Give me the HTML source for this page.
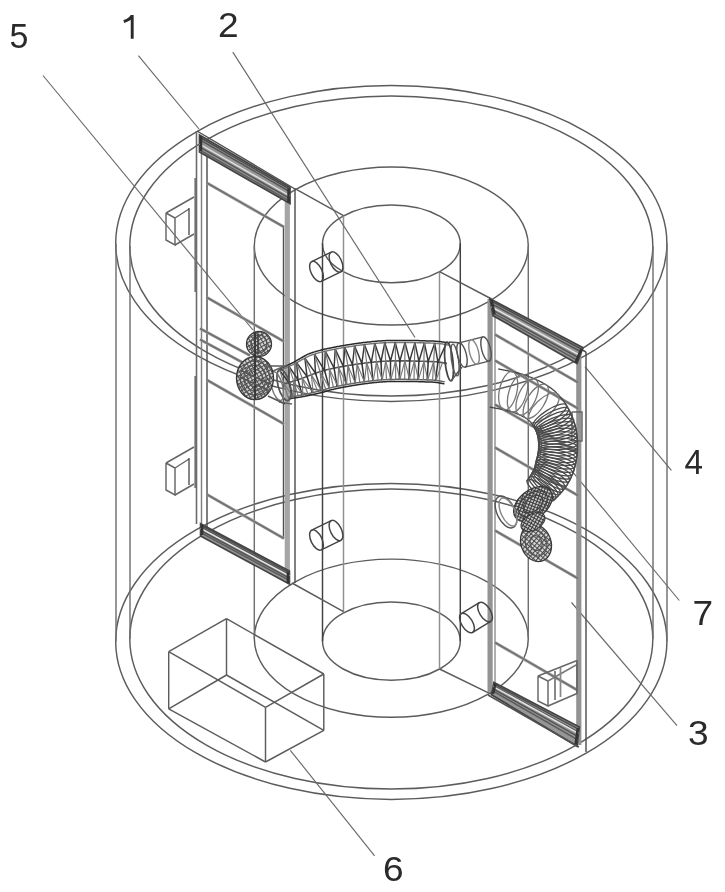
<!DOCTYPE html>
<html><head><meta charset="utf-8"><style>
html,body{margin:0;padding:0;background:#fff;}
svg{display:block;filter:grayscale(1);}
</style></head><body>
<svg width="725" height="892" viewBox="0 0 725 892">
<defs><pattern id="mesh" width="3.5" height="3.5" patternUnits="userSpaceOnUse" patternTransform="rotate(-30)"><rect width="3.5" height="3.5" fill="#dcdcdc"/><path d="M0 0.5 H3.5 M0.5 0 V3.5" stroke="#4a4a4a" stroke-width="1"/></pattern><pattern id="mesh2" width="3" height="3" patternUnits="userSpaceOnUse" patternTransform="rotate(-30)"><rect width="3" height="3" fill="#c8c8c8"/><path d="M0 0.5 H3 M0.5 0 V3" stroke="#3a3a3a" stroke-width="1"/></pattern></defs>
<rect width="725" height="892" fill="#fff"/>
<ellipse cx="391.3" cy="243.5" rx="275.6" ry="158.0" fill="none" stroke="#5c5c5c" stroke-width="1.45"/>
<ellipse cx="391.3" cy="246.0" rx="261.5" ry="150.0" fill="none" stroke="#5c5c5c" stroke-width="1.45"/>
<ellipse cx="391.3" cy="641.4" rx="275.6" ry="158.0" fill="none" stroke="#5c5c5c" stroke-width="1.45"/>
<ellipse cx="391.3" cy="639.0" rx="261.5" ry="150.0" fill="none" stroke="#5c5c5c" stroke-width="1.45"/>
<line x1="116.0" y1="243.5" x2="116.0" y2="641.4" stroke="#707070" stroke-width="1.45"/>
<line x1="130.0" y1="246.0" x2="130.0" y2="639.0" stroke="#707070" stroke-width="1.45"/>
<line x1="653.0" y1="246.0" x2="653.0" y2="639.0" stroke="#707070" stroke-width="1.45"/>
<line x1="667.0" y1="243.5" x2="667.0" y2="641.4" stroke="#707070" stroke-width="1.45"/>
<ellipse cx="391.3" cy="246.0" rx="137.0" ry="79.0" fill="none" stroke="#5c5c5c" stroke-width="1.45"/>
<ellipse cx="391.3" cy="638.2" rx="137.0" ry="79.1" fill="none" stroke="#5c5c5c" stroke-width="1.45"/>
<line x1="254.3" y1="246.0" x2="254.3" y2="638.2" stroke="#707070" stroke-width="1.45"/>
<line x1="528.3" y1="246.0" x2="528.3" y2="638.2" stroke="#707070" stroke-width="1.45"/>
<ellipse cx="391.4" cy="243.8" rx="68.9" ry="38.9" fill="none" stroke="#5c5c5c" stroke-width="1.45"/>
<ellipse cx="391.4" cy="641.1" rx="68.9" ry="39.1" fill="none" stroke="#5c5c5c" stroke-width="1.45"/>
<line x1="322.5" y1="243.3" x2="322.5" y2="641.2" stroke="#404040" stroke-width="1.45"/>
<line x1="460.3" y1="243.3" x2="460.3" y2="641.2" stroke="#404040" stroke-width="1.45"/>
<line x1="343.5" y1="215.7" x2="343.5" y2="611.7" stroke="#909090" stroke-width="1.45"/>
<line x1="439.5" y1="271.6" x2="439.5" y2="669.0" stroke="#909090" stroke-width="1.45"/>
<line x1="295.0" y1="188.6" x2="343.5" y2="215.7" stroke="#5c5c5c" stroke-width="1.45"/>
<line x1="491.6" y1="299.0" x2="439.5" y2="271.6" stroke="#5c5c5c" stroke-width="1.45"/>
<line x1="292.0" y1="583.0" x2="343.5" y2="611.7" stroke="#5c5c5c" stroke-width="1.45"/>
<line x1="439.5" y1="669.0" x2="491.0" y2="694.2" stroke="#5c5c5c" stroke-width="1.45"/>
<text transform="translate(9.5 47.5) scale(0.97 1)" font-family="Liberation Sans, sans-serif" font-size="35" fill="#2a2a2a">5</text>
<text transform="translate(218 37) scale(1.06 1)" font-family="Liberation Sans, sans-serif" font-size="35" fill="#2a2a2a">2</text>
<text transform="translate(684.5 473.5) scale(0.95 1)" font-family="Liberation Sans, sans-serif" font-size="35" fill="#2a2a2a">4</text>
<text transform="translate(692.5 624.5) scale(1.06 1)" font-family="Liberation Sans, sans-serif" font-size="35" fill="#2a2a2a">7</text>
<text transform="translate(688 745) scale(1.06 1)" font-family="Liberation Sans, sans-serif" font-size="35" fill="#2a2a2a">3</text>
<text transform="translate(383 881) scale(1.06 1)" font-family="Liberation Sans, sans-serif" font-size="35" fill="#2a2a2a">6</text>
<path d="M132.2 15 L132.2 38.8 M132.2 15.5 C130.5 18.5 127.5 20.5 123.8 21.5" fill="none" stroke="#2a2a2a" stroke-width="2.9"/>
<line x1="43.0" y1="75.5" x2="253.0" y2="330.0" stroke="#6a6a6a" stroke-width="1.16"/>
<line x1="138.4" y1="55.6" x2="199.0" y2="129.0" stroke="#6a6a6a" stroke-width="1.16"/>
<line x1="232.8" y1="52.1" x2="415.0" y2="337.5" stroke="#6a6a6a" stroke-width="1.16"/>
<line x1="585.0" y1="366.7" x2="671.4" y2="470.3" stroke="#6a6a6a" stroke-width="1.16"/>
<line x1="572.6" y1="471.8" x2="679.3" y2="600.5" stroke="#6a6a6a" stroke-width="1.16"/>
<line x1="571.5" y1="602.5" x2="677.0" y2="725.6" stroke="#6a6a6a" stroke-width="1.16"/>
<line x1="290.3" y1="750.3" x2="374.6" y2="855.8" stroke="#6a6a6a" stroke-width="1.16"/>
<line x1="168.7" y1="651.7" x2="226.5" y2="618.7" stroke="#5c5c5c" stroke-width="1.45"/>
<line x1="226.5" y1="618.7" x2="323.8" y2="674.0" stroke="#5c5c5c" stroke-width="1.45"/>
<line x1="323.8" y1="674.0" x2="265.5" y2="707.3" stroke="#5c5c5c" stroke-width="1.45"/>
<line x1="265.5" y1="707.3" x2="168.7" y2="651.7" stroke="#5c5c5c" stroke-width="1.45"/>
<line x1="168.7" y1="708.8" x2="226.5" y2="675.0" stroke="#5c5c5c" stroke-width="1.45"/>
<line x1="226.5" y1="675.0" x2="323.8" y2="730.4" stroke="#5c5c5c" stroke-width="1.45"/>
<line x1="323.8" y1="730.4" x2="265.5" y2="762.0" stroke="#5c5c5c" stroke-width="1.45"/>
<line x1="265.5" y1="762.0" x2="168.7" y2="708.8" stroke="#5c5c5c" stroke-width="1.45"/>
<line x1="168.7" y1="651.7" x2="168.7" y2="708.8" stroke="#5c5c5c" stroke-width="1.45"/>
<line x1="226.5" y1="618.7" x2="226.5" y2="675.0" stroke="#5c5c5c" stroke-width="1.45"/>
<line x1="323.8" y1="674.0" x2="323.8" y2="730.4" stroke="#5c5c5c" stroke-width="1.45"/>
<line x1="265.5" y1="707.3" x2="265.5" y2="762.0" stroke="#5c5c5c" stroke-width="1.45"/>
<line x1="196.5" y1="131.0" x2="196.5" y2="524.0" stroke="#6a6a6a" stroke-width="1.6"/>
<line x1="201.5" y1="136.0" x2="201.5" y2="524.0" stroke="#808080" stroke-width="1.45"/>
<line x1="207.0" y1="139.0" x2="207.0" y2="530.0" stroke="#505050" stroke-width="1.45"/>
<line x1="283.5" y1="226.0" x2="283.5" y2="538.0" stroke="#505050" stroke-width="1.45"/>
<line x1="287.3" y1="200.0" x2="287.3" y2="572.0" stroke="#a5a5a5" stroke-width="5.2"/>
<line x1="295.0" y1="189.0" x2="295.0" y2="583.0" stroke="#505050" stroke-width="1.45"/>
<line x1="197.0" y1="131.0" x2="295.0" y2="189.0" stroke="#505050" stroke-width="1.45"/>
<path d="M199.5 135.0 L290.0 187.5 L290.0 203.5 L199.5 152.0 Z" fill="#969696" stroke="#444" stroke-width="1.74"/>
<line x1="199.5" y1="137.0" x2="290.0" y2="189.4" stroke="#4a4a4a" stroke-width="1.45"/>
<line x1="199.5" y1="139.6" x2="290.0" y2="191.8" stroke="#555" stroke-width="1.45"/>
<line x1="199.5" y1="144.0" x2="290.0" y2="196.0" stroke="#e6e6e6" stroke-width="1.4"/>
<line x1="199.5" y1="146.9" x2="290.0" y2="198.7" stroke="#555" stroke-width="1.45"/>
<line x1="199.5" y1="149.8" x2="290.0" y2="201.4" stroke="#5a5a5a" stroke-width="1.45"/>
<line x1="201.0" y1="136.0" x2="201.0" y2="151.0" stroke="#333" stroke-width="2.5"/>
<line x1="288.5" y1="188.5" x2="288.5" y2="202.5" stroke="#333" stroke-width="2.5"/>
<path d="M200.6 523.7 L289.4 571.0 L289.4 584.0 L200.6 536.0 Z" fill="#969696" stroke="#444" stroke-width="1.74"/>
<line x1="200.6" y1="525.2" x2="289.4" y2="572.6" stroke="#4a4a4a" stroke-width="1.45"/>
<line x1="200.6" y1="527.0" x2="289.4" y2="574.5" stroke="#555" stroke-width="1.45"/>
<line x1="200.6" y1="528.4" x2="289.4" y2="575.9" stroke="#e6e6e6" stroke-width="1.4"/>
<line x1="200.6" y1="530.5" x2="289.4" y2="578.1" stroke="#555" stroke-width="1.45"/>
<line x1="200.6" y1="532.6" x2="289.4" y2="580.4" stroke="#5a5a5a" stroke-width="1.45"/>
<line x1="202.1" y1="524.7" x2="202.1" y2="535.0" stroke="#333" stroke-width="2.5"/>
<line x1="287.9" y1="572.0" x2="287.9" y2="583.0" stroke="#333" stroke-width="2.5"/>
<line x1="207.0" y1="183.0" x2="284.0" y2="227.0" stroke="#a0a0a0" stroke-width="3.0"/>
<line x1="207.0" y1="183.0" x2="284.0" y2="227.0" stroke="#707070" stroke-width="1.45"/>
<line x1="207.0" y1="297.5" x2="284.0" y2="341.5" stroke="#a0a0a0" stroke-width="3.0"/>
<line x1="207.0" y1="297.5" x2="284.0" y2="341.5" stroke="#707070" stroke-width="1.45"/>
<line x1="207.0" y1="380.0" x2="284.0" y2="424.0" stroke="#a0a0a0" stroke-width="3.0"/>
<line x1="207.0" y1="380.0" x2="284.0" y2="424.0" stroke="#707070" stroke-width="1.45"/>
<line x1="207.0" y1="494.5" x2="284.0" y2="538.5" stroke="#a0a0a0" stroke-width="3.0"/>
<line x1="207.0" y1="494.5" x2="284.0" y2="538.5" stroke="#707070" stroke-width="1.45"/>
<line x1="200.0" y1="328.5" x2="250.0" y2="355.5" stroke="#a0a0a0" stroke-width="3.0"/>
<line x1="200.0" y1="328.5" x2="250.0" y2="355.5" stroke="#707070" stroke-width="1.45"/>
<line x1="200.0" y1="339.5" x2="250.0" y2="366.5" stroke="#a0a0a0" stroke-width="3.0"/>
<line x1="200.0" y1="339.5" x2="250.0" y2="366.5" stroke="#707070" stroke-width="1.45"/>
<line x1="195.5" y1="178.0" x2="195.5" y2="292.0" stroke="#707070" stroke-width="2.2"/>
<line x1="195.5" y1="376.0" x2="195.5" y2="488.0" stroke="#707070" stroke-width="2.2"/>
<path d="M166.0 213.0 L175.0 218.0 L175.0 245.0 L166.0 240.0 L166.0 213.0" fill="none" stroke="#666" stroke-width="1.45"/>
<line x1="166.0" y1="213.0" x2="194.0" y2="197.0" stroke="#666" stroke-width="1.45"/>
<line x1="175.0" y1="218.0" x2="189.0" y2="209.0" stroke="#666" stroke-width="1.45"/>
<line x1="189.0" y1="208.0" x2="189.0" y2="235.0" stroke="#444" stroke-width="1.3"/>
<line x1="175.0" y1="245.0" x2="194.0" y2="234.0" stroke="#666" stroke-width="1.45"/>
<path d="M166.0 463.0 L175.0 468.0 L175.0 495.0 L166.0 490.0 L166.0 463.0" fill="none" stroke="#666" stroke-width="1.45"/>
<line x1="166.0" y1="463.0" x2="194.0" y2="447.0" stroke="#666" stroke-width="1.45"/>
<line x1="175.0" y1="468.0" x2="189.0" y2="459.0" stroke="#666" stroke-width="1.45"/>
<line x1="189.0" y1="458.0" x2="189.0" y2="485.0" stroke="#444" stroke-width="1.3"/>
<line x1="175.0" y1="495.0" x2="194.0" y2="484.0" stroke="#666" stroke-width="1.45"/>
<line x1="490.1" y1="299.0" x2="490.1" y2="692.0" stroke="#939393" stroke-width="5.2"/>
<line x1="495.0" y1="302.0" x2="495.0" y2="690.0" stroke="#909090" stroke-width="1.45"/>
<line x1="578.8" y1="350.0" x2="578.8" y2="745.0" stroke="#939393" stroke-width="5.2"/>
<line x1="586.0" y1="352.0" x2="586.0" y2="752.0" stroke="#505050" stroke-width="1.45"/>
<line x1="489.0" y1="299.0" x2="586.0" y2="352.0" stroke="#505050" stroke-width="1.45"/>
<path d="M490.0 298.7 L583.0 347.7 L577.0 363.5 L493.0 315.6 Z" fill="#969696" stroke="#444" stroke-width="1.74"/>
<line x1="490.4" y1="300.7" x2="582.3" y2="349.6" stroke="#4a4a4a" stroke-width="1.45"/>
<line x1="490.8" y1="303.3" x2="581.4" y2="352.0" stroke="#555" stroke-width="1.45"/>
<line x1="491.4" y1="306.8" x2="580.1" y2="355.3" stroke="#e6e6e6" stroke-width="1.4"/>
<line x1="491.9" y1="309.7" x2="579.1" y2="358.0" stroke="#555" stroke-width="1.45"/>
<line x1="492.5" y1="312.6" x2="578.1" y2="360.7" stroke="#5a5a5a" stroke-width="1.45"/>
<line x1="491.5" y1="299.7" x2="494.5" y2="314.6" stroke="#333" stroke-width="2.5"/>
<line x1="581.5" y1="348.7" x2="575.5" y2="362.5" stroke="#333" stroke-width="2.5"/>
<path d="M494.0 682.4 L579.3 727.1 L577.0 746.2 L491.6 694.8 Z" fill="#969696" stroke="#444" stroke-width="1.74"/>
<line x1="493.7" y1="683.9" x2="579.0" y2="729.4" stroke="#4a4a4a" stroke-width="1.45"/>
<line x1="493.4" y1="685.7" x2="578.7" y2="732.3" stroke="#555" stroke-width="1.45"/>
<line x1="493.2" y1="686.5" x2="578.5" y2="733.4" stroke="#e6e6e6" stroke-width="1.4"/>
<line x1="492.8" y1="688.6" x2="578.1" y2="736.7" stroke="#555" stroke-width="1.45"/>
<line x1="492.4" y1="690.7" x2="577.8" y2="739.9" stroke="#5a5a5a" stroke-width="1.45"/>
<line x1="495.5" y1="683.4" x2="493.1" y2="693.8" stroke="#333" stroke-width="2.5"/>
<line x1="577.8" y1="728.1" x2="575.5" y2="745.2" stroke="#333" stroke-width="2.5"/>
<line x1="488.0" y1="695.0" x2="579.0" y2="747.0" stroke="#505050" stroke-width="1.45"/>
<line x1="495.0" y1="334.5" x2="578.0" y2="382.5" stroke="#a0a0a0" stroke-width="3.0"/>
<line x1="495.0" y1="334.5" x2="578.0" y2="382.5" stroke="#707070" stroke-width="1.45"/>
<line x1="495.0" y1="360.5" x2="578.0" y2="408.5" stroke="#a0a0a0" stroke-width="3.0"/>
<line x1="495.0" y1="360.5" x2="578.0" y2="408.5" stroke="#707070" stroke-width="1.45"/>
<line x1="495.0" y1="404.5" x2="578.0" y2="452.5" stroke="#a0a0a0" stroke-width="3.0"/>
<line x1="495.0" y1="404.5" x2="578.0" y2="452.5" stroke="#707070" stroke-width="1.45"/>
<line x1="495.0" y1="447.5" x2="578.0" y2="495.5" stroke="#a0a0a0" stroke-width="3.0"/>
<line x1="495.0" y1="447.5" x2="578.0" y2="495.5" stroke="#707070" stroke-width="1.45"/>
<line x1="495.0" y1="530.5" x2="578.0" y2="578.5" stroke="#a0a0a0" stroke-width="3.0"/>
<line x1="495.0" y1="530.5" x2="578.0" y2="578.5" stroke="#707070" stroke-width="1.45"/>
<line x1="495.0" y1="642.5" x2="578.0" y2="690.5" stroke="#a0a0a0" stroke-width="3.0"/>
<line x1="495.0" y1="642.5" x2="578.0" y2="690.5" stroke="#707070" stroke-width="1.45"/>
<path d="M538.0 676.0 L548.0 681.0 L548.0 706.0 L538.0 701.0 L538.0 676.0" fill="none" stroke="#666" stroke-width="1.45"/>
<line x1="538.0" y1="676.0" x2="577.0" y2="660.5" stroke="#666" stroke-width="1.45"/>
<line x1="548.0" y1="681.0" x2="577.0" y2="664.5" stroke="#777" stroke-width="1.45"/>
<line x1="548.0" y1="706.0" x2="577.0" y2="693.5" stroke="#666" stroke-width="1.45"/>
<line x1="555.0" y1="671.0" x2="555.0" y2="700.0" stroke="#777" stroke-width="1.74"/>
<line x1="560.5" y1="668.0" x2="560.5" y2="697.0" stroke="#888" stroke-width="1.74"/>
<line x1="577.0" y1="660.5" x2="577.0" y2="693.5" stroke="#666" stroke-width="1.74"/>
<ellipse cx="316.5" cy="271.5" rx="5.5" ry="11.0" fill="none" stroke="#444" stroke-width="1.45" transform="rotate(-25.974393962431318 316.5 271.5)"/>
<ellipse cx="336.0" cy="262.0" rx="5.5" ry="11.0" fill="none" stroke="#444" stroke-width="1.45" transform="rotate(-25.974393962431318 336.0 262.0)"/>
<line x1="321.3" y1="281.4" x2="340.8" y2="271.9" stroke="#444" stroke-width="1.45"/>
<line x1="311.7" y1="261.6" x2="331.2" y2="252.1" stroke="#444" stroke-width="1.45"/>
<ellipse cx="316.5" cy="540.0" rx="5.5" ry="11.0" fill="none" stroke="#444" stroke-width="1.45" transform="rotate(-25.974393962431318 316.5 540.0)"/>
<ellipse cx="336.0" cy="530.5" rx="5.5" ry="11.0" fill="none" stroke="#444" stroke-width="1.45" transform="rotate(-25.974393962431318 336.0 530.5)"/>
<line x1="321.3" y1="549.9" x2="340.8" y2="540.4" stroke="#444" stroke-width="1.45"/>
<line x1="311.7" y1="530.1" x2="331.2" y2="520.6" stroke="#444" stroke-width="1.45"/>
<ellipse cx="467.0" cy="623.0" rx="5.5" ry="11.0" fill="none" stroke="#444" stroke-width="1.45" transform="rotate(-31.429565614838516 467.0 623.0)"/>
<ellipse cx="485.0" cy="612.0" rx="5.5" ry="11.0" fill="none" stroke="#444" stroke-width="1.45" transform="rotate(-31.429565614838516 485.0 612.0)"/>
<line x1="472.7" y1="632.4" x2="490.7" y2="621.4" stroke="#444" stroke-width="1.45"/>
<line x1="461.3" y1="613.6" x2="479.3" y2="602.6" stroke="#444" stroke-width="1.45"/>
<path d="M572.0 412.0 L582.0 412.0 L582.0 441.0 L572.0 441.0 L572.0 412.0" fill="none" stroke="#666" stroke-width="1.45"/>
<line x1="566.0" y1="416.0" x2="572.0" y2="412.0" stroke="#777" stroke-width="1.45"/>
<path d="M279.4 369.2 L279.6 369.1 L279.9 369.0 L280.2 368.8 L280.5 368.7 L280.8 368.5 L281.1 368.4 L281.5 368.2 L281.8 368.1 L282.2 367.9 L282.6 367.7 L282.9 367.5 L283.3 367.3 L283.8 367.1 L284.2 366.9 L284.6 366.7 L285.1 366.5 L285.5 366.3 L286.0 366.0 L286.5 365.8 L287.0 365.6 L287.5 365.3 L288.0 365.1 L288.5 364.8 L289.1 364.5 L289.6 364.3 L290.2 364.0 L290.7 363.7 L291.3 363.4 L291.9 363.1 L292.5 362.8 L293.2 362.5 L293.8 362.2 L294.4 361.9 L294.7 361.7 L294.9 361.6 L295.2 361.4 L295.4 361.3 L295.7 361.1 L296.0 360.9 L296.3 360.8 L296.6 360.6 L296.9 360.4 L297.2 360.2 L297.5 360.0 L297.9 359.9 L298.2 359.7 L298.6 359.5 L298.9 359.2 L299.3 359.0 L299.6 358.8 L300.0 358.6 L300.4 358.4 L300.8 358.2 L301.2 357.9 L301.6 357.7 L302.0 357.5 L302.4 357.2 L302.9 357.0 L303.3 356.7 L303.7 356.5 L304.2 356.2 L304.7 356.0 L305.1 355.7 L305.6 355.5 L306.1 355.2 L306.6 354.9 L307.1 354.7 L307.6 354.4 L308.1 354.1 L308.6 353.9 L309.2 353.7 L309.7 353.5 L310.3 353.3 L310.9 353.1 L311.5 352.9 L312.1 352.7 L312.7 352.5 L313.3 352.3 L313.9 352.1 L314.5 351.9 L315.2 351.7 L315.8 351.5 L316.5 351.3 L317.1 351.1 L317.8 350.9 L318.5 350.8 L319.1 350.6 L319.8 350.4 L320.5 350.2 L321.2 350.0 L321.9 349.8 L322.7 349.7 L323.4 349.5 L324.1 349.3 L324.9 349.1 L325.6 349.0 L326.0 348.9 L326.5 348.8 L326.9 348.7 L327.3 348.6 L327.8 348.5 L328.2 348.4 L328.7 348.3 L329.1 348.2 L329.6 348.1 L330.0 348.0 L330.5 347.9 L331.0 347.9 L331.4 347.8 L331.9 347.7 L332.4 347.6 L332.8 347.5 L333.3 347.4 L333.8 347.3 L334.3 347.2 L334.8 347.1 L335.3 347.0 L335.8 346.9 L336.2 346.8 L336.7 346.7 L337.2 346.6 L337.7 346.5 L338.2 346.5 L338.7 346.4 L339.3 346.3 L339.8 346.2 L340.3 346.1 L340.8 346.0 L341.3 345.9 L341.8 345.8 L342.3 345.7 L342.9 345.6 L343.4 345.5 L343.9 345.5 L344.4 345.4 L345.0 345.3 L345.5 345.2 L346.0 345.1 L346.6 345.0 L347.1 344.9 L347.6 344.8 L348.2 344.8 L348.7 344.7 L349.3 344.6 L349.8 344.5 L350.3 344.4 L350.9 344.3 L351.4 344.2 L352.0 344.2 L352.5 344.1 L353.1 344.0 L353.6 343.9 L354.2 343.8 L354.7 343.7 L355.3 343.7 L355.8 343.6 L356.4 343.5 L356.9 343.4 L357.5 343.4 L358.0 343.3 L358.6 343.2 L359.2 343.1 L359.7 343.1 L360.3 343.0 L360.8 342.9 L361.4 342.8 L361.9 342.8 L362.5 342.7 L363.0 342.6 L363.6 342.6 L364.2 342.5 L364.7 342.4 L365.3 342.4 L365.8 342.3 L366.4 342.2 L366.9 342.2 L367.5 342.1 L368.1 342.0 L368.6 342.0 L369.2 341.9 L369.7 341.9 L370.3 341.8 L370.8 341.7 L371.4 341.7 L371.9 341.6 L372.5 341.6 L373.0 341.5 L373.6 341.5 L374.1 341.4 L374.7 341.4 L375.2 341.3 L375.8 341.3 L376.3 341.2 L376.8 341.2 L377.4 341.1 L377.9 341.1 L378.5 341.1 L379.0 341.0 L379.6 341.0 L380.2 340.9 L380.7 340.9 L381.3 340.9 L381.9 340.8 L382.4 340.8 L383.0 340.8 L383.6 340.7 L384.2 340.7 L384.7 340.7 L385.3 340.7 L385.9 340.6 L386.5 340.6 L387.1 340.6 L387.6 340.6 L388.2 340.5 L388.8 340.5 L389.4 340.5 L390.0 340.5 L390.6 340.5 L391.1 340.5 L391.7 340.5 L392.3 340.4 L392.9 340.4 L393.5 340.4 L394.1 340.4 L394.7 340.4 L395.2 340.4 L395.8 340.4 L396.4 340.4 L397.0 340.4 L397.6 340.4 L398.2 340.4 L398.7 340.4 L399.3 340.4 L399.9 340.4 L400.5 340.4 L401.1 340.4 L401.6 340.4 L402.2 340.4 L402.8 340.4 L403.4 340.4 L403.9 340.4 L404.5 340.4 L405.1 340.4 L405.6 340.4 L406.2 340.4 L406.8 340.4 L407.3 340.4 L407.9 340.4 L408.4 340.4 L409.0 340.4 L409.5 340.4 L410.1 340.4 L410.6 340.5 L411.2 340.5 L411.7 340.5 L412.3 340.5 L412.8 340.5 L413.3 340.5 L413.9 340.5 L414.4 340.5 L414.9 340.5 L415.4 340.6 L415.9 340.6 L416.5 340.6 L417.0 340.6 L417.5 340.6 L418.0 340.6 L418.5 340.6 L419.0 340.7 L419.5 340.7 L419.9 340.7 L420.4 340.7 L420.9 340.7 L421.4 340.7 L421.8 340.7 L422.3 340.7 L422.7 340.8 L423.2 340.8 L423.6 340.8 L424.1 340.8 L424.5 340.8 L424.9 340.8 L425.4 340.8 L425.8 340.9 L426.2 340.9 L426.6 340.9 L427.0 340.9 L427.4 340.9 L427.8 340.9 L428.2 340.9 L428.5 340.9 L428.9 341.0 L429.2 341.0 L429.6 341.0 L429.9 341.0 L430.3 341.0 L430.7 341.0 L431.7 341.0 L432.8 341.1 L433.8 341.1 L434.8 341.2 L435.8 341.2 L436.7 341.3 L437.6 341.4 L438.5 341.5 L439.3 341.5 L440.1 341.6 L440.9 341.7 L441.6 341.8 L442.4 341.9 L443.1 342.0 L443.7 342.1 L444.4 342.2 L445.0 342.3 L445.6 342.4 L446.1 342.5 L446.7 342.6 L447.1 342.7 L447.6 342.8 L448.0 342.8 L448.4 342.9 L448.7 343.0 L449.0 343.0 L449.2 343.1 L449.4 343.1 L449.6 343.2 L449.6 343.2 L449.6 343.2 L449.6 343.2 L449.5 343.2 L449.6 343.2" fill="none" stroke="#2a2a2a" stroke-width="1.5"/>
<path d="M288.6 398.8 L288.9 398.8 L289.1 398.7 L289.4 398.7 L289.7 398.6 L290.0 398.6 L290.3 398.6 L290.7 398.5 L291.1 398.4 L291.5 398.4 L291.9 398.3 L292.3 398.3 L292.8 398.2 L293.2 398.1 L293.7 398.1 L294.2 398.0 L294.7 397.9 L295.2 397.8 L295.8 397.7 L296.3 397.7 L296.9 397.6 L297.5 397.5 L298.1 397.4 L298.7 397.3 L299.3 397.2 L300.0 397.1 L300.6 397.0 L301.3 396.9 L302.0 396.7 L302.7 396.6 L303.4 396.5 L304.1 396.4 L304.8 396.3 L305.6 396.1 L306.1 396.0 L306.6 395.9 L307.0 395.8 L307.5 395.7 L308.0 395.6 L308.5 395.5 L308.9 395.4 L309.4 395.3 L309.9 395.2 L310.3 395.1 L310.8 395.0 L311.2 394.9 L311.7 394.8 L312.1 394.7 L312.6 394.6 L313.0 394.5 L313.5 394.4 L313.9 394.3 L314.4 394.2 L314.8 394.1 L315.3 394.0 L315.7 393.9 L316.1 393.8 L316.6 393.7 L317.0 393.6 L317.5 393.5 L317.9 393.4 L318.4 393.3 L318.8 393.2 L319.2 393.1 L319.7 393.0 L320.1 392.9 L320.6 392.8 L321.0 392.8 L321.5 392.7 L321.9 392.6 L322.4 392.5 L322.8 392.4 L323.2 392.2 L323.6 392.1 L324.1 391.9 L324.5 391.8 L324.9 391.6 L325.4 391.5 L325.8 391.3 L326.3 391.2 L326.7 391.1 L327.2 390.9 L327.6 390.8 L328.1 390.6 L328.5 390.5 L329.0 390.4 L329.5 390.2 L329.9 390.1 L330.4 390.0 L330.9 389.9 L331.4 389.7 L331.9 389.6 L332.4 389.5 L332.9 389.4 L333.4 389.3 L333.9 389.1 L334.4 389.0 L334.7 388.9 L335.1 388.9 L335.5 388.8 L335.9 388.7 L336.3 388.6 L336.7 388.5 L337.0 388.5 L337.4 388.4 L337.8 388.3 L338.3 388.2 L338.7 388.1 L339.1 388.0 L339.5 388.0 L339.9 387.9 L340.3 387.8 L340.8 387.7 L341.2 387.6 L341.6 387.5 L342.0 387.5 L342.5 387.4 L342.9 387.3 L343.4 387.2 L343.8 387.1 L344.3 387.0 L344.7 387.0 L345.2 386.9 L345.6 386.8 L346.1 386.7 L346.5 386.6 L347.0 386.5 L347.5 386.5 L347.9 386.4 L348.4 386.3 L348.9 386.2 L349.3 386.1 L349.8 386.0 L350.3 386.0 L350.8 385.9 L351.3 385.8 L351.7 385.7 L352.2 385.6 L352.7 385.6 L353.2 385.5 L353.7 385.4 L354.2 385.3 L354.7 385.2 L355.2 385.2 L355.6 385.1 L356.1 385.0 L356.6 384.9 L357.1 384.8 L357.6 384.8 L358.1 384.7 L358.6 384.6 L359.1 384.5 L359.6 384.5 L360.1 384.4 L360.6 384.3 L361.1 384.3 L361.6 384.2 L362.1 384.1 L362.6 384.0 L363.1 384.0 L363.6 383.9 L364.1 383.8 L364.6 383.8 L365.1 383.7 L365.6 383.6 L366.1 383.6 L366.6 383.5 L367.1 383.4 L367.6 383.4 L368.1 383.3 L368.6 383.2 L369.1 383.2 L369.6 383.1 L370.1 383.1 L370.6 383.0 L371.1 383.0 L371.6 382.9 L372.1 382.8 L372.6 382.8 L373.1 382.7 L373.5 382.7 L374.0 382.6 L374.5 382.6 L375.0 382.5 L375.5 382.5 L375.9 382.4 L376.4 382.4 L376.9 382.3 L377.4 382.3 L377.8 382.3 L378.3 382.2 L378.8 382.2 L379.2 382.1 L379.7 382.1 L380.2 382.0 L380.6 382.0 L381.1 382.0 L381.5 381.9 L382.0 381.9 L382.4 381.9 L382.9 381.8 L383.3 381.8 L383.8 381.8 L384.2 381.8 L384.7 381.7 L385.2 381.7 L385.7 381.7 L386.1 381.7 L386.6 381.6 L387.1 381.6 L387.6 381.6 L388.1 381.6 L388.6 381.6 L389.1 381.5 L389.6 381.5 L390.1 381.5 L390.6 381.5 L391.1 381.5 L391.6 381.5 L392.1 381.5 L392.6 381.4 L393.1 381.4 L393.7 381.4 L394.2 381.4 L394.7 381.4 L395.2 381.4 L395.7 381.4 L396.3 381.4 L396.8 381.4 L397.3 381.4 L397.8 381.4 L398.4 381.4 L398.9 381.4 L399.4 381.4 L399.9 381.4 L400.5 381.4 L401.0 381.4 L401.5 381.4 L402.1 381.4 L402.6 381.4 L403.1 381.4 L403.6 381.4 L404.2 381.4 L404.7 381.4 L405.2 381.4 L405.8 381.4 L406.3 381.4 L406.8 381.4 L407.3 381.4 L407.8 381.4 L408.4 381.4 L408.9 381.4 L409.4 381.4 L409.9 381.5 L410.4 381.5 L410.9 381.5 L411.4 381.5 L412.0 381.5 L412.5 381.5 L413.0 381.5 L413.5 381.5 L414.0 381.5 L414.4 381.5 L414.9 381.6 L415.4 381.6 L415.9 381.6 L416.4 381.6 L416.9 381.6 L417.4 381.6 L417.8 381.6 L418.3 381.6 L418.8 381.7 L419.2 381.7 L419.7 381.7 L420.1 381.7 L420.6 381.7 L421.0 381.7 L421.5 381.7 L421.9 381.8 L422.4 381.8 L422.8 381.8 L423.2 381.8 L423.6 381.8 L424.1 381.8 L424.5 381.8 L424.9 381.8 L425.3 381.9 L425.7 381.9 L426.1 381.9 L426.5 381.9 L426.8 381.9 L427.2 381.9 L427.6 381.9 L428.0 381.9 L428.3 382.0 L428.7 382.0 L429.0 382.0 L429.3 382.0 L430.2 382.0 L431.0 382.0 L431.7 382.1 L432.4 382.1 L433.1 382.2 L433.7 382.2 L434.3 382.2 L434.8 382.3 L435.3 382.3 L435.8 382.4 L436.2 382.4 L436.6 382.5 L437.0 382.5 L437.3 382.6 L437.7 382.6 L438.0 382.7 L438.3 382.7 L438.5 382.8 L438.8 382.8 L439.1 382.9 L439.3 382.9 L439.6 383.0 L439.8 383.0 L440.1 383.1 L440.4 383.1 L440.7 383.2 L441.1 383.3 L441.5 383.3 L441.9 383.4 L442.3 383.5 L442.8 383.6 L443.4 383.7 L444.0 383.8 L444.4 383.8" fill="none" stroke="#2a2a2a" stroke-width="1.5"/>
<path d="M279.9 370.7 L280.1 370.6 L280.4 370.4 L280.7 370.3 L281.0 370.2 L281.3 370.0 L281.6 369.9 L281.9 369.7 L282.3 369.6 L282.6 369.4 L283.0 369.2 L283.4 369.1 L283.8 368.9 L284.2 368.7 L284.6 368.5 L285.1 368.3 L285.5 368.1 L286.0 367.9 L286.5 367.6 L287.0 367.4 L287.5 367.2 L288.0 366.9 L288.5 366.7 L289.0 366.4 L289.6 366.2 L290.1 365.9 L290.7 365.6 L291.3 365.4 L291.9 365.1 L292.5 364.8 L293.1 364.5 L293.7 364.2 L294.3 363.9 L295.0 363.6 L295.2 363.4 L295.5 363.3 L295.8 363.1 L296.0 363.0 L296.3 362.8 L296.6 362.7 L296.9 362.5 L297.2 362.3 L297.5 362.2 L297.9 362.0 L298.2 361.8 L298.5 361.6 L298.9 361.4 L299.2 361.2 L299.6 361.0 L300.0 360.8 L300.3 360.6 L300.7 360.4 L301.1 360.2 L301.5 360.0 L301.9 359.7 L302.3 359.5 L302.7 359.3 L303.1 359.0 L303.6 358.8 L304.0 358.6 L304.4 358.3 L304.9 358.1 L305.4 357.8 L305.8 357.6 L306.3 357.3 L306.8 357.1 L307.3 356.8 L307.8 356.6 L308.3 356.3 L308.8 356.1 L309.3 355.8 L309.9 355.6 L310.4 355.4 L311.0 355.2 L311.6 355.0 L312.1 354.8 L312.7 354.6 L313.3 354.4 L313.9 354.3 L314.5 354.1 L315.2 353.9 L315.8 353.7 L316.4 353.5 L317.1 353.3 L317.7 353.1 L318.4 352.9 L319.0 352.7 L319.7 352.5 L320.4 352.4 L321.0 352.2 L321.7 352.0 L322.4 351.8 L323.2 351.6 L323.9 351.5 L324.6 351.3 L325.3 351.1 L326.0 351.0 L326.5 350.9 L326.9 350.8 L327.3 350.7 L327.8 350.6 L328.2 350.5 L328.7 350.4 L329.1 350.3 L329.5 350.2 L330.0 350.1 L330.5 350.0 L330.9 350.0 L331.4 349.9 L331.8 349.8 L332.3 349.7 L332.8 349.6 L333.2 349.5 L333.7 349.4 L334.2 349.3 L334.7 349.2 L335.2 349.1 L335.6 349.0 L336.1 348.9 L336.6 348.8 L337.1 348.7 L337.6 348.7 L338.1 348.6 L338.6 348.5 L339.1 348.4 L339.6 348.3 L340.1 348.2 L340.6 348.1 L341.1 348.0 L341.7 347.9 L342.2 347.8 L342.7 347.7 L343.2 347.7 L343.7 347.6 L344.3 347.5 L344.8 347.4 L345.3 347.3 L345.8 347.2 L346.4 347.1 L346.9 347.0 L347.4 346.9 L348.0 346.9 L348.5 346.8 L349.0 346.7 L349.6 346.6 L350.1 346.5 L350.7 346.4 L351.2 346.4 L351.7 346.3 L352.3 346.2 L352.8 346.1 L353.4 346.0 L353.9 345.9 L354.5 345.9 L355.0 345.8 L355.6 345.7 L356.1 345.6 L356.7 345.5 L357.2 345.5 L357.8 345.4 L358.3 345.3 L358.9 345.2 L359.4 345.2 L360.0 345.1 L360.5 345.0 L361.1 344.9 L361.6 344.9 L362.2 344.8 L362.7 344.7 L363.3 344.7 L363.9 344.6 L364.4 344.5 L365.0 344.5 L365.5 344.4 L366.1 344.3 L366.6 344.3 L367.2 344.2 L367.7 344.1 L368.3 344.1 L368.8 344.0 L369.4 344.0 L369.9 343.9 L370.5 343.8 L371.0 343.8 L371.6 343.7 L372.1 343.7 L372.7 343.6 L373.2 343.6 L373.8 343.5 L374.3 343.5 L374.8 343.4 L375.4 343.4 L375.9 343.3 L376.5 343.3 L377.0 343.2 L377.5 343.2 L378.1 343.1 L378.6 343.1 L379.2 343.1 L379.7 343.0 L380.3 343.0 L380.9 342.9 L381.4 342.9 L382.0 342.9 L382.6 342.8 L383.1 342.8 L383.7 342.8 L384.3 342.8 L384.8 342.7 L385.4 342.7 L386.0 342.7 L386.6 342.7 L387.1 342.6 L387.7 342.6 L388.3 342.6 L388.9 342.6 L389.4 342.6 L390.0 342.5 L390.6 342.5 L391.2 342.5 L391.8 342.5 L392.4 342.5 L392.9 342.5 L393.5 342.5 L394.1 342.5 L394.7 342.5 L395.3 342.4 L395.8 342.4 L396.4 342.4 L397.0 342.4 L397.6 342.4 L398.2 342.4 L398.7 342.4 L399.3 342.4 L399.9 342.4 L400.5 342.4 L401.1 342.4 L401.6 342.4 L402.2 342.4 L402.8 342.4 L403.3 342.4 L403.9 342.4 L404.5 342.4 L405.0 342.4 L405.6 342.4 L406.2 342.4 L406.7 342.5 L407.3 342.5 L407.9 342.5 L408.4 342.5 L409.0 342.5 L409.5 342.5 L410.1 342.5 L410.6 342.5 L411.1 342.5 L411.7 342.5 L412.2 342.5 L412.8 342.5 L413.3 342.6 L413.8 342.6 L414.3 342.6 L414.9 342.6 L415.4 342.6 L415.9 342.6 L416.4 342.6 L416.9 342.6 L417.4 342.7 L417.9 342.7 L418.4 342.7 L418.9 342.7 L419.4 342.7 L419.9 342.7 L420.4 342.7 L420.8 342.8 L421.3 342.8 L421.8 342.8 L422.2 342.8 L422.7 342.8 L423.1 342.8 L423.6 342.8 L424.0 342.9 L424.4 342.9 L424.9 342.9 L425.3 342.9 L425.7 342.9 L426.1 342.9 L426.5 342.9 L426.9 342.9 L427.3 343.0 L427.7 343.0 L428.1 343.0 L428.5 343.0 L428.8 343.0 L429.2 343.0 L429.5 343.0 L429.9 343.0 L430.2 343.0 L430.6 343.1 L431.6 343.1 L432.7 343.1 L433.7 343.2 L434.7 343.2 L435.6 343.3 L436.5 343.4 L437.4 343.4 L438.3 343.5 L439.1 343.6 L439.9 343.7 L440.6 343.7 L441.4 343.8 L442.1 343.9 L442.8 344.0 L443.4 344.1 L444.1 344.2 L444.7 344.3 L445.2 344.4 L445.8 344.5 L446.3 344.6 L446.8 344.7 L447.2 344.8 L447.6 344.9 L448.0 344.9 L448.3 345.0 L448.6 345.1 L448.8 345.1 L449.0 345.1 L449.2 345.2 L449.3 345.2 L449.3 345.2 L449.3 345.2 L449.2 345.2 L449.3 345.2" fill="none" stroke="#777" stroke-width="1.45"/>
<path d="M288.1 397.3 L288.4 397.3 L288.7 397.2 L288.9 397.2 L289.2 397.1 L289.6 397.1 L289.9 397.0 L290.2 397.0 L290.6 396.9 L291.0 396.9 L291.4 396.8 L291.8 396.7 L292.3 396.7 L292.8 396.6 L293.2 396.5 L293.7 396.4 L294.2 396.3 L294.7 396.2 L295.3 396.2 L295.8 396.1 L296.4 396.0 L297.0 395.9 L297.6 395.8 L298.2 395.7 L298.8 395.5 L299.5 395.4 L300.1 395.3 L300.8 395.2 L301.4 395.1 L302.1 395.0 L302.8 394.8 L303.6 394.7 L304.3 394.6 L305.0 394.4 L305.5 394.3 L306.0 394.2 L306.4 394.1 L306.9 394.0 L307.4 393.9 L307.8 393.8 L308.3 393.7 L308.7 393.6 L309.2 393.5 L309.7 393.4 L310.1 393.2 L310.6 393.1 L311.0 393.0 L311.5 392.9 L311.9 392.8 L312.3 392.7 L312.8 392.6 L313.2 392.5 L313.7 392.4 L314.1 392.3 L314.6 392.2 L315.0 392.1 L315.4 391.9 L315.9 391.8 L316.3 391.7 L316.8 391.6 L317.2 391.5 L317.7 391.4 L318.1 391.3 L318.5 391.2 L319.0 391.1 L319.4 391.0 L319.9 391.0 L320.3 390.9 L320.8 390.8 L321.2 390.7 L321.7 390.6 L322.1 390.4 L322.5 390.3 L323.0 390.1 L323.4 390.0 L323.9 389.8 L324.3 389.7 L324.8 389.5 L325.2 389.4 L325.7 389.2 L326.1 389.1 L326.6 389.0 L327.0 388.8 L327.5 388.7 L328.0 388.5 L328.4 388.4 L328.9 388.3 L329.4 388.1 L329.9 388.0 L330.4 387.9 L330.9 387.8 L331.4 387.6 L331.9 387.5 L332.4 387.4 L332.9 387.3 L333.4 387.1 L334.0 387.0 L334.3 386.9 L334.7 386.9 L335.1 386.8 L335.5 386.7 L335.8 386.6 L336.2 386.5 L336.6 386.5 L337.0 386.4 L337.4 386.3 L337.8 386.2 L338.3 386.1 L338.7 386.0 L339.1 385.9 L339.5 385.9 L339.9 385.8 L340.4 385.7 L340.8 385.6 L341.2 385.5 L341.7 385.4 L342.1 385.4 L342.5 385.3 L343.0 385.2 L343.4 385.1 L343.9 385.0 L344.3 384.9 L344.8 384.9 L345.3 384.8 L345.7 384.7 L346.2 384.6 L346.6 384.5 L347.1 384.4 L347.6 384.3 L348.0 384.3 L348.5 384.2 L349.0 384.1 L349.5 384.0 L350.0 383.9 L350.4 383.9 L350.9 383.8 L351.4 383.7 L351.9 383.6 L352.4 383.5 L352.9 383.4 L353.4 383.4 L353.8 383.3 L354.3 383.2 L354.8 383.1 L355.3 383.1 L355.8 383.0 L356.3 382.9 L356.8 382.8 L357.3 382.7 L357.8 382.7 L358.3 382.6 L358.8 382.5 L359.3 382.4 L359.8 382.4 L360.3 382.3 L360.8 382.2 L361.3 382.1 L361.8 382.1 L362.3 382.0 L362.8 381.9 L363.3 381.9 L363.8 381.8 L364.4 381.7 L364.9 381.7 L365.4 381.6 L365.9 381.5 L366.4 381.5 L366.9 381.4 L367.4 381.3 L367.9 381.3 L368.4 381.2 L368.9 381.2 L369.4 381.1 L369.9 381.0 L370.4 381.0 L370.9 380.9 L371.4 380.9 L371.8 380.8 L372.3 380.7 L372.8 380.7 L373.3 380.6 L373.8 380.6 L374.3 380.5 L374.8 380.5 L375.3 380.4 L375.7 380.4 L376.2 380.3 L376.7 380.3 L377.2 380.3 L377.7 380.2 L378.1 380.2 L378.6 380.1 L379.1 380.1 L379.5 380.0 L380.0 380.0 L380.5 380.0 L380.9 379.9 L381.4 379.9 L381.8 379.9 L382.3 379.8 L382.7 379.8 L383.2 379.8 L383.7 379.7 L384.1 379.7 L384.6 379.7 L385.1 379.7 L385.5 379.6 L386.0 379.6 L386.5 379.6 L387.0 379.6 L387.5 379.6 L388.0 379.5 L388.5 379.5 L389.0 379.5 L389.5 379.5 L390.0 379.5 L390.5 379.4 L391.0 379.4 L391.5 379.4 L392.1 379.4 L392.6 379.4 L393.1 379.4 L393.6 379.4 L394.1 379.4 L394.7 379.4 L395.2 379.3 L395.7 379.3 L396.2 379.3 L396.8 379.3 L397.3 379.3 L397.8 379.3 L398.4 379.3 L398.9 379.3 L399.4 379.3 L399.9 379.3 L400.5 379.3 L401.0 379.3 L401.5 379.3 L402.1 379.3 L402.6 379.3 L403.1 379.3 L403.7 379.3 L404.2 379.3 L404.7 379.3 L405.3 379.3 L405.8 379.3 L406.3 379.3 L406.8 379.4 L407.4 379.4 L407.9 379.4 L408.4 379.4 L408.9 379.4 L409.4 379.4 L409.9 379.4 L410.5 379.4 L411.0 379.4 L411.5 379.4 L412.0 379.4 L412.5 379.5 L413.0 379.5 L413.5 379.5 L414.0 379.5 L414.5 379.5 L415.0 379.5 L415.5 379.5 L416.0 379.5 L416.5 379.5 L416.9 379.6 L417.4 379.6 L417.9 379.6 L418.4 379.6 L418.8 379.6 L419.3 379.6 L419.7 379.6 L420.2 379.7 L420.7 379.7 L421.1 379.7 L421.5 379.7 L422.0 379.7 L422.4 379.7 L422.9 379.7 L423.3 379.7 L423.7 379.8 L424.1 379.8 L424.5 379.8 L424.9 379.8 L425.3 379.8 L425.7 379.8 L426.1 379.8 L426.5 379.9 L426.9 379.9 L427.3 379.9 L427.7 379.9 L428.0 379.9 L428.4 379.9 L428.8 379.9 L429.1 379.9 L429.4 379.9 L430.3 380.0 L431.1 380.0 L431.8 380.0 L432.6 380.1 L433.2 380.1 L433.8 380.2 L434.4 380.2 L435.0 380.3 L435.5 380.3 L436.0 380.3 L436.4 380.4 L436.9 380.4 L437.3 380.5 L437.6 380.6 L438.0 380.6 L438.3 380.7 L438.6 380.7 L438.9 380.7 L439.2 380.8 L439.4 380.8 L439.7 380.9 L440.0 381.0 L440.2 381.0 L440.5 381.1 L440.8 381.1 L441.1 381.2 L441.5 381.3 L441.9 381.3 L442.3 381.4 L442.7 381.5 L443.2 381.6 L443.7 381.7 L444.3 381.7 L444.7 381.8" fill="none" stroke="#666" stroke-width="1.45"/>
<path d="M284.0 384.0 L284.3 383.9 L284.5 383.8 L284.8 383.8 L285.1 383.7 L285.4 383.6 L285.7 383.5 L286.1 383.4 L286.5 383.2 L286.8 383.1 L287.2 383.0 L287.6 382.9 L288.1 382.8 L288.5 382.6 L288.9 382.5 L289.4 382.3 L289.9 382.2 L290.4 382.0 L290.9 381.9 L291.4 381.7 L291.9 381.6 L292.5 381.4 L293.0 381.2 L293.6 381.0 L294.2 380.9 L294.8 380.7 L295.4 380.5 L296.0 380.3 L296.7 380.1 L297.3 379.9 L298.0 379.7 L298.6 379.4 L299.3 379.2 L300.0 379.0 L300.4 378.9 L300.7 378.8 L301.1 378.6 L301.5 378.5 L301.9 378.4 L302.2 378.2 L302.6 378.1 L303.0 378.0 L303.4 377.8 L303.8 377.7 L304.2 377.5 L304.5 377.4 L304.9 377.2 L305.3 377.1 L305.7 376.9 L306.1 376.8 L306.6 376.6 L307.0 376.4 L307.4 376.3 L307.8 376.1 L308.2 375.9 L308.6 375.8 L309.1 375.6 L309.5 375.4 L309.9 375.3 L310.4 375.1 L310.8 374.9 L311.3 374.8 L311.7 374.6 L312.2 374.4 L312.6 374.2 L313.1 374.1 L313.6 373.9 L314.0 373.7 L314.5 373.5 L315.0 373.4 L315.5 373.2 L316.0 373.0 L316.5 372.9 L317.0 372.7 L317.5 372.5 L318.0 372.3 L318.5 372.2 L319.0 372.0 L319.6 371.8 L320.1 371.7 L320.6 371.5 L321.2 371.3 L321.7 371.2 L322.3 371.0 L322.8 370.8 L323.4 370.7 L324.0 370.5 L324.5 370.3 L325.1 370.2 L325.7 370.0 L326.3 369.9 L326.9 369.7 L327.5 369.6 L328.1 369.4 L328.7 369.3 L329.4 369.1 L330.0 369.0 L330.4 368.9 L330.8 368.8 L331.2 368.7 L331.6 368.7 L332.0 368.6 L332.4 368.5 L332.9 368.4 L333.3 368.3 L333.7 368.2 L334.1 368.1 L334.6 368.0 L335.0 367.9 L335.5 367.9 L335.9 367.8 L336.3 367.7 L336.8 367.6 L337.3 367.5 L337.7 367.4 L338.2 367.3 L338.6 367.2 L339.1 367.1 L339.6 367.1 L340.0 367.0 L340.5 366.9 L341.0 366.8 L341.5 366.7 L341.9 366.6 L342.4 366.5 L342.9 366.4 L343.4 366.4 L343.9 366.3 L344.4 366.2 L344.9 366.1 L345.4 366.0 L345.8 365.9 L346.3 365.8 L346.8 365.7 L347.3 365.7 L347.9 365.6 L348.4 365.5 L348.9 365.4 L349.4 365.3 L349.9 365.2 L350.4 365.2 L350.9 365.1 L351.4 365.0 L351.9 364.9 L352.5 364.8 L353.0 364.7 L353.5 364.7 L354.0 364.6 L354.5 364.5 L355.1 364.4 L355.6 364.3 L356.1 364.3 L356.6 364.2 L357.1 364.1 L357.7 364.0 L358.2 364.0 L358.7 363.9 L359.3 363.8 L359.8 363.7 L360.3 363.7 L360.8 363.6 L361.4 363.5 L361.9 363.4 L362.4 363.4 L362.9 363.3 L363.5 363.2 L364.0 363.2 L364.5 363.1 L365.1 363.0 L365.6 363.0 L366.1 362.9 L366.6 362.8 L367.2 362.8 L367.7 362.7 L368.2 362.6 L368.7 362.6 L369.3 362.5 L369.8 362.5 L370.3 362.4 L370.8 362.4 L371.3 362.3 L371.9 362.2 L372.4 362.2 L372.9 362.1 L373.4 362.1 L373.9 362.0 L374.4 362.0 L375.0 361.9 L375.5 361.9 L376.0 361.8 L376.5 361.8 L377.0 361.7 L377.5 361.7 L378.0 361.7 L378.5 361.6 L379.0 361.6 L379.5 361.5 L380.0 361.5 L380.5 361.5 L381.0 361.4 L381.5 361.4 L382.0 361.4 L382.5 361.3 L383.1 361.3 L383.6 361.3 L384.1 361.2 L384.6 361.2 L385.1 361.2 L385.7 361.2 L386.2 361.1 L386.7 361.1 L387.3 361.1 L387.8 361.1 L388.4 361.1 L388.9 361.0 L389.4 361.0 L390.0 361.0 L390.5 361.0 L391.1 361.0 L391.6 361.0 L392.2 360.9 L392.7 360.9 L393.3 360.9 L393.8 360.9 L394.4 360.9 L394.9 360.9 L395.5 360.9 L396.0 360.9 L396.6 360.9 L397.1 360.9 L397.7 360.9 L398.3 360.9 L398.8 360.9 L399.4 360.9 L399.9 360.9 L400.5 360.9 L401.0 360.9 L401.6 360.9 L402.1 360.9 L402.7 360.9 L403.2 360.9 L403.8 360.9 L404.3 360.9 L404.9 360.9 L405.4 360.9 L406.0 360.9 L406.5 360.9 L407.1 360.9 L407.6 360.9 L408.1 360.9 L408.7 360.9 L409.2 360.9 L409.7 360.9 L410.3 361.0 L410.8 361.0 L411.3 361.0 L411.9 361.0 L412.4 361.0 L412.9 361.0 L413.4 361.0 L413.9 361.0 L414.4 361.0 L414.9 361.1 L415.4 361.1 L415.9 361.1 L416.4 361.1 L416.9 361.1 L417.4 361.1 L417.9 361.1 L418.4 361.1 L418.9 361.2 L419.3 361.2 L419.8 361.2 L420.3 361.2 L420.8 361.2 L421.2 361.2 L421.7 361.2 L422.1 361.3 L422.6 361.3 L423.0 361.3 L423.4 361.3 L423.9 361.3 L424.3 361.3 L424.7 361.3 L425.1 361.3 L425.5 361.4 L425.9 361.4 L426.3 361.4 L426.7 361.4 L427.1 361.4 L427.5 361.4 L427.9 361.4 L428.2 361.4 L428.6 361.5 L429.0 361.5 L429.3 361.5 L429.7 361.5 L430.0 361.5 L431.0 361.5 L431.9 361.6 L432.8 361.6 L433.6 361.7 L434.4 361.7 L435.2 361.8 L435.9 361.8 L436.6 361.9 L437.3 361.9 L437.9 362.0 L438.5 362.1 L439.1 362.1 L439.7 362.2 L440.2 362.3 L440.7 362.4 L441.2 362.4 L441.6 362.5 L442.1 362.6 L442.5 362.6 L442.9 362.7 L443.2 362.8 L443.6 362.9 L443.9 362.9 L444.3 363.0 L444.6 363.1 L444.9 363.1 L445.2 363.2 L445.4 363.2 L445.7 363.3 L446.0 363.3 L446.2 363.4 L446.5 363.4 L446.7 363.5 L447.0 363.5" fill="none" stroke="#555" stroke-width="1.59"/>
<path d="M279.9 370.7 L288.9 382.5 L289.0 366.4" fill="none" stroke="#383838" stroke-width="1.45"/>
<line x1="279.9" y1="370.7" x2="288.1" y2="397.3" stroke="#777" stroke-width="1.16"/>
<line x1="288.9" y1="382.5" x2="292.8" y2="396.6" stroke="#333" stroke-width="1.5"/>
<path d="M284.0 384.0 L293.2 396.5 L293.6 381.0" fill="none" stroke="#777" stroke-width="1.16"/>
<path d="M289.0 366.4 L298.0 379.7 L296.6 362.7" fill="none" stroke="#383838" stroke-width="1.45"/>
<line x1="289.0" y1="366.4" x2="298.2" y2="395.7" stroke="#777" stroke-width="1.16"/>
<line x1="298.0" y1="379.7" x2="302.1" y2="395.0" stroke="#333" stroke-width="1.5"/>
<path d="M293.6 381.0 L302.8 394.8 L302.2 378.2" fill="none" stroke="#777" stroke-width="1.16"/>
<path d="M296.6 362.7 L307.0 376.4 L304.9 358.1" fill="none" stroke="#383838" stroke-width="1.45"/>
<line x1="296.6" y1="362.7" x2="307.8" y2="393.8" stroke="#777" stroke-width="1.16"/>
<line x1="307.0" y1="376.4" x2="312.3" y2="392.7" stroke="#333" stroke-width="1.5"/>
<path d="M302.2 378.2 L313.2 392.5 L311.3 374.8" fill="none" stroke="#777" stroke-width="1.16"/>
<path d="M304.9 358.1 L315.5 373.2 L314.5 354.1" fill="none" stroke="#383838" stroke-width="1.45"/>
<line x1="304.9" y1="358.1" x2="317.7" y2="391.4" stroke="#777" stroke-width="1.16"/>
<line x1="315.5" y1="373.2" x2="321.2" y2="390.7" stroke="#333" stroke-width="1.5"/>
<path d="M311.3 374.8 L321.7 390.6 L320.1 371.7" fill="none" stroke="#777" stroke-width="1.16"/>
<path d="M314.5 354.1 L324.5 370.3 L325.3 351.1" fill="none" stroke="#383838" stroke-width="1.45"/>
<line x1="314.5" y1="354.1" x2="325.7" y2="389.2" stroke="#777" stroke-width="1.16"/>
<line x1="324.5" y1="370.3" x2="329.4" y2="388.1" stroke="#333" stroke-width="1.5"/>
<path d="M320.1 371.7 L329.4 388.1 L329.4 369.1" fill="none" stroke="#777" stroke-width="1.16"/>
<path d="M325.3 351.1 L334.1 368.1 L335.2 349.1" fill="none" stroke="#383838" stroke-width="1.45"/>
<line x1="325.3" y1="351.1" x2="333.4" y2="387.1" stroke="#777" stroke-width="1.16"/>
<line x1="334.1" y1="368.1" x2="337.0" y2="386.4" stroke="#333" stroke-width="1.5"/>
<path d="M329.4 369.1 L337.8 386.2 L338.6 367.2" fill="none" stroke="#777" stroke-width="1.16"/>
<path d="M335.2 349.1 L343.4 366.4 L344.8 347.4" fill="none" stroke="#383838" stroke-width="1.45"/>
<line x1="335.2" y1="349.1" x2="342.1" y2="385.4" stroke="#777" stroke-width="1.16"/>
<line x1="343.4" y1="366.4" x2="346.2" y2="384.6" stroke="#333" stroke-width="1.5"/>
<path d="M338.6 367.2 L346.6 384.5 L347.9 365.6" fill="none" stroke="#777" stroke-width="1.16"/>
<path d="M344.8 347.4 L352.5 364.8 L354.5 345.9" fill="none" stroke="#383838" stroke-width="1.45"/>
<line x1="344.8" y1="347.4" x2="350.9" y2="383.8" stroke="#777" stroke-width="1.16"/>
<line x1="352.5" y1="364.8" x2="355.3" y2="383.1" stroke="#333" stroke-width="1.5"/>
<path d="M347.9 365.6 L355.3 383.1 L357.1 364.1" fill="none" stroke="#777" stroke-width="1.16"/>
<path d="M354.5 345.9 L361.9 363.4 L364.4 344.5" fill="none" stroke="#383838" stroke-width="1.45"/>
<line x1="354.5" y1="345.9" x2="359.8" y2="382.4" stroke="#777" stroke-width="1.16"/>
<line x1="361.9" y1="363.4" x2="364.4" y2="381.7" stroke="#333" stroke-width="1.5"/>
<path d="M357.1 364.1 L364.4 381.7 L366.6 362.8" fill="none" stroke="#777" stroke-width="1.16"/>
<path d="M364.4 344.5 L371.3 362.3 L374.8 343.4" fill="none" stroke="#383838" stroke-width="1.45"/>
<line x1="364.4" y1="344.5" x2="368.9" y2="381.2" stroke="#777" stroke-width="1.16"/>
<line x1="371.3" y1="362.3" x2="372.8" y2="380.7" stroke="#333" stroke-width="1.5"/>
<path d="M366.6 362.8 L373.3 380.6 L376.5 361.8" fill="none" stroke="#777" stroke-width="1.16"/>
<path d="M374.8 343.4 L381.0 361.4 L384.8 342.7" fill="none" stroke="#383838" stroke-width="1.45"/>
<line x1="374.8" y1="343.4" x2="378.1" y2="380.2" stroke="#777" stroke-width="1.16"/>
<line x1="381.0" y1="361.4" x2="381.8" y2="379.9" stroke="#333" stroke-width="1.5"/>
<path d="M376.5 361.8 L382.3 379.8 L385.7 361.2" fill="none" stroke="#777" stroke-width="1.16"/>
<path d="M384.8 342.7 L390.5 361.0 L395.3 342.4" fill="none" stroke="#383838" stroke-width="1.45"/>
<line x1="384.8" y1="342.7" x2="386.5" y2="379.6" stroke="#777" stroke-width="1.16"/>
<line x1="390.5" y1="361.0" x2="390.5" y2="379.4" stroke="#333" stroke-width="1.5"/>
<path d="M385.7 361.2 L391.0 379.4 L395.5 360.9" fill="none" stroke="#777" stroke-width="1.16"/>
<path d="M395.3 342.4 L399.9 360.9 L405.0 342.4" fill="none" stroke="#383838" stroke-width="1.45"/>
<line x1="395.3" y1="342.4" x2="395.7" y2="379.3" stroke="#777" stroke-width="1.16"/>
<line x1="399.9" y1="360.9" x2="399.4" y2="379.3" stroke="#333" stroke-width="1.5"/>
<path d="M395.5 360.9 L399.9 379.3 L404.9 360.9" fill="none" stroke="#777" stroke-width="1.16"/>
<path d="M405.0 342.4 L409.7 360.9 L414.9 342.6" fill="none" stroke="#383838" stroke-width="1.45"/>
<line x1="405.0" y1="342.4" x2="404.7" y2="379.3" stroke="#777" stroke-width="1.16"/>
<line x1="409.7" y1="360.9" x2="408.9" y2="379.4" stroke="#333" stroke-width="1.5"/>
<path d="M404.9 360.9 L409.4 379.4 L414.4 361.0" fill="none" stroke="#777" stroke-width="1.16"/>
<path d="M414.9 342.6 L418.9 361.2 L424.4 342.9" fill="none" stroke="#383838" stroke-width="1.45"/>
<line x1="414.9" y1="342.6" x2="414.0" y2="379.5" stroke="#777" stroke-width="1.16"/>
<line x1="418.9" y1="361.2" x2="417.9" y2="379.6" stroke="#333" stroke-width="1.5"/>
<path d="M414.4 361.0 L418.4 379.6 L423.9 361.3" fill="none" stroke="#777" stroke-width="1.16"/>
<path d="M424.4 342.9 L428.2 361.4 L434.7 343.2" fill="none" stroke="#383838" stroke-width="1.45"/>
<line x1="424.4" y1="342.9" x2="423.3" y2="379.7" stroke="#777" stroke-width="1.16"/>
<line x1="428.2" y1="361.4" x2="427.3" y2="379.9" stroke="#333" stroke-width="1.5"/>
<path d="M423.9 361.3 L427.7 379.9 L433.6 361.7" fill="none" stroke="#777" stroke-width="1.16"/>
<path d="M434.7 343.2 L437.9 362.0 L445.8 344.5" fill="none" stroke="#383838" stroke-width="1.45"/>
<line x1="434.7" y1="343.2" x2="432.6" y2="380.1" stroke="#777" stroke-width="1.16"/>
<line x1="437.9" y1="362.0" x2="435.5" y2="380.3" stroke="#333" stroke-width="1.5"/>
<path d="M433.6 361.7 L436.0 380.3 L442.5 362.6" fill="none" stroke="#777" stroke-width="1.16"/>
<ellipse cx="284.0" cy="385.0" rx="6.0" ry="16.0" fill="none" stroke="#555" stroke-width="1.74" transform="rotate(-15 284.0 385.0)"/>
<ellipse cx="277.0" cy="386.0" rx="5.5" ry="15.0" fill="none" stroke="#777" stroke-width="1.45" transform="rotate(-15 277.0 386.0)"/>
<line x1="273.0" y1="371.0" x2="287.0" y2="365.0" stroke="#666" stroke-width="1.45"/>
<line x1="279.0" y1="402.0" x2="292.0" y2="404.0" stroke="#666" stroke-width="1.45"/>
<ellipse cx="449.0" cy="361.5" rx="4.0" ry="19.5" fill="none" stroke="#444" stroke-width="1.74" transform="rotate(-6 449.0 361.5)"/>
<ellipse cx="455.0" cy="360.0" rx="3.5" ry="16.0" fill="none" stroke="#555" stroke-width="1.45" transform="rotate(-8 455.0 360.0)"/>
<line x1="449.0" y1="342.0" x2="462.0" y2="343.0" stroke="#555" stroke-width="1.45"/>
<line x1="451.0" y1="381.0" x2="462.0" y2="367.0" stroke="#555" stroke-width="1.45"/>
<ellipse cx="462.0" cy="355.0" rx="4.4" ry="12.5" fill="none" stroke="#555" stroke-width="1.45" transform="rotate(-14.036243467926479 462.0 355.0)"/>
<ellipse cx="486.0" cy="349.0" rx="4.4" ry="12.5" fill="none" stroke="#555" stroke-width="1.45" transform="rotate(-14.036243467926479 486.0 349.0)"/>
<line x1="465.0" y1="367.1" x2="489.0" y2="361.1" stroke="#555" stroke-width="1.45"/>
<line x1="459.0" y1="342.9" x2="483.0" y2="336.9" stroke="#555" stroke-width="1.45"/>
<ellipse cx="474.0" cy="352.0" rx="4.5" ry="12.5" fill="none" stroke="#888" stroke-width="1.45" transform="rotate(-14 474.0 352.0)"/>
<ellipse cx="259" cy="344" rx="12.5" ry="12.5" fill="url(#mesh)" stroke="#3a3a3a" stroke-width="1.3"/>
<ellipse cx="259.0" cy="344.0" rx="8.0" ry="9.0" fill="none" stroke="#555" stroke-width="1.45"/>
<ellipse cx="255" cy="378" rx="18.5" ry="21.5" fill="url(#mesh)" stroke="#3a3a3a" stroke-width="1.4"/>
<ellipse cx="255.0" cy="378.0" rx="14.8" ry="17.2" fill="none" stroke="#555" stroke-width="1.3"/>
<ellipse cx="255.0" cy="378.0" rx="11.1" ry="12.9" fill="none" stroke="#555" stroke-width="1.3"/>
<ellipse cx="255.0" cy="378.0" rx="7.4" ry="8.6" fill="none" stroke="#555" stroke-width="1.3"/>
<line x1="255.0" y1="332.0" x2="255.0" y2="399.0" stroke="#333" stroke-width="1.8"/>
<line x1="258.0" y1="334.0" x2="258.0" y2="354.0" stroke="#444" stroke-width="1.74"/>
<line x1="240.0" y1="370.0" x2="270.0" y2="384.0" stroke="#555" stroke-width="1.74"/>
<line x1="240.0" y1="377.0" x2="270.0" y2="391.0" stroke="#555" stroke-width="1.74"/>
<line x1="266.0" y1="366.0" x2="283.0" y2="366.0" stroke="#555" stroke-width="1.45"/>
<line x1="268.0" y1="396.0" x2="285.0" y2="404.0" stroke="#555" stroke-width="1.45"/>
<path d="M498.3 369.0 L498.5 369.0 L498.6 369.1 L498.8 369.1 L499.0 369.1 L499.3 369.2 L499.6 369.2 L499.9 369.3 L500.2 369.4 L500.6 369.4 L501.0 369.5 L501.4 369.6 L501.8 369.7 L502.2 369.7 L502.7 369.8 L503.2 369.9 L503.6 370.0 L504.1 370.1 L504.7 370.2 L505.2 370.3 L505.7 370.4 L506.3 370.5 L506.8 370.6 L507.4 370.7 L508.0 370.8 L508.6 371.0 L509.2 371.1 L509.8 371.2 L510.4 371.3 L511.0 371.4 L511.6 371.6 L512.3 371.7 L512.9 371.9 L513.5 372.0 L514.2 372.1 L514.8 372.3 L515.5 372.4 L516.1 372.6 L516.8 372.7 L517.5 372.9 L518.1 373.1 L518.8 373.2 L519.4 373.4 L520.1 373.6 L520.8 373.8 L521.4 374.0 L522.1 374.2 L522.8 374.4 L523.5 374.6 L524.1 374.8 L524.8 375.0 L525.5 375.2 L526.2 375.5 L526.8 375.7 L527.4 375.9 L527.9 376.1 L528.4 376.3 L529.0 376.6 L529.5 376.8 L530.1 377.0 L530.6 377.2 L531.2 377.4 L531.7 377.6 L532.3 377.9 L532.8 378.1 L533.4 378.3 L534.0 378.6 L534.5 378.8 L535.1 379.1 L535.6 379.3 L536.2 379.6 L536.8 379.9 L537.4 380.1 L537.9 380.4 L538.5 380.7 L539.1 380.9 L539.6 381.2 L540.2 381.5 L540.8 381.8 L541.4 382.1 L542.0 382.4 L542.5 382.7 L543.1 383.1 L543.7 383.4 L544.3 383.7 L544.9 384.1 L545.4 384.4 L546.0 384.8 L546.6 385.1 L547.2 385.5 L547.8 385.9 L548.3 386.3 L548.9 386.7 L549.5 387.1 L550.1 387.5 L550.6 387.9 L551.2 388.3 L551.8 388.8 L552.3 389.2 L552.9 389.7 L553.5 390.1 L554.0 390.6 L554.6 391.1 L555.2 391.6 L555.7 392.1 L556.3 392.6 L556.8 393.2 L557.3 393.7 L557.8 394.2 L558.3 394.8 L558.9 395.3 L559.3 395.8 L559.8 396.4 L560.3 396.9 L560.8 397.5 L561.3 398.1 L561.7 398.6 L562.2 399.2 L562.6 399.8 L563.1 400.3 L563.5 400.9 L563.9 401.5 L564.3 402.1 L564.7 402.7 L565.1 403.2 L565.5 403.8 L565.9 404.4 L566.3 405.0 L566.7 405.6 L567.0 406.2 L567.4 406.8 L567.8 407.4 L568.1 408.1 L568.5 408.7 L568.8 409.3 L569.1 409.9 L569.4 410.5 L569.8 411.1 L570.1 411.8 L570.4 412.4 L570.7 413.0 L571.0 413.6 L571.3 414.3 L571.5 414.9 L571.8 415.5 L572.1 416.2 L572.3 416.8 L572.6 417.4 L572.8 418.1 L573.1 418.7 L573.3 419.3 L573.6 420.0 L573.8 420.7 L574.0 421.4 L574.2 422.0 L574.4 422.7 L574.6 423.4 L574.8 424.0 L575.0 424.7 L575.2 425.4 L575.4 426.1 L575.5 426.7 L575.7 427.4 L575.8 428.1 L576.0 428.8 L576.1 429.4 L576.2 430.1 L576.4 430.8 L576.5 431.5 L576.6 432.1 L576.7 432.8 L576.8 433.5 L576.9 434.1 L577.0 434.8 L577.1 435.5 L577.1 436.1 L577.2 436.8 L577.3 437.5 L577.3 438.1 L577.4 438.8 L577.4 439.5 L577.5 440.1 L577.5 440.8 L577.5 441.5 L577.6 442.1 L577.6 442.8 L577.6 443.4 L577.6 444.1 L577.6 444.7 L577.6 445.4 L577.6 446.1 L577.6 446.7 L577.6 447.4 L577.6 448.0 L577.6 448.6 L577.6 449.3 L577.5 449.9 L577.5 450.6 L577.5 451.2 L577.4 451.9 L577.4 452.6 L577.3 453.2 L577.2 453.9 L577.2 454.6 L577.1 455.3 L577.0 455.9 L576.9 456.6 L576.8 457.3 L576.7 457.9 L576.6 458.6 L576.5 459.2 L576.4 459.9 L576.3 460.5 L576.2 461.2 L576.1 461.8 L575.9 462.5 L575.8 463.1 L575.7 463.8 L575.5 464.4 L575.4 465.1 L575.2 465.7 L575.1 466.3 L574.9 467.0 L574.7 467.6 L574.6 468.2 L574.4 468.8 L574.2 469.5 L574.1 470.1 L573.9 470.7 L573.7 471.3 L573.5 471.9 L573.3 472.5 L573.0 473.1 L572.8 473.7 L572.5 474.3 L572.3 474.9 L572.0 475.4 L571.8 476.0 L571.5 476.6 L571.3 477.1 L571.0 477.7 L570.7 478.2 L570.5 478.8 L570.2 479.3 L569.9 479.9 L569.6 480.4 L569.4 481.0 L569.0 481.6 L568.6 482.3 L568.2 483.2 L567.7 483.9 L567.2 484.7 L566.8 485.5 L566.3 486.2 L565.8 486.9 L565.3 487.6 L564.8 488.2 L564.4 488.9 L563.9 489.5 L563.4 490.1 L562.9 490.7 L562.4 491.3 L561.9 491.9 L561.4 492.4 L561.0 492.9 L560.5 493.5 L560.0 494.0 L559.6 494.5 L559.1 495.0 L558.7 495.4 L558.3 495.9 L557.8 496.3 L557.4 496.7 L557.0 497.1 L556.6 497.5 L556.3 497.9 L555.9 498.3 L555.6 498.6 L555.2 498.9 L554.9 499.2 L554.6 499.5 L554.4 499.8 L554.2 500.0 L553.9 500.2 L553.8 500.3 L553.6 500.5 L553.5 500.5 L553.5 500.6 L553.4 500.6" fill="none" stroke="#444" stroke-width="1.3"/>
<path d="M489.7 407.0 L490.0 407.1 L490.4 407.2 L490.8 407.3 L491.2 407.4 L491.6 407.4 L492.1 407.5 L492.5 407.6 L492.9 407.7 L493.3 407.8 L493.7 407.8 L494.2 407.9 L494.6 408.0 L495.1 408.1 L495.5 408.2 L496.0 408.3 L496.5 408.3 L497.0 408.4 L497.5 408.5 L498.0 408.6 L498.4 408.7 L499.0 408.8 L499.5 408.9 L500.0 409.0 L500.5 409.1 L501.0 409.2 L501.5 409.3 L502.0 409.4 L502.5 409.5 L503.1 409.6 L503.6 409.7 L504.1 409.8 L504.6 410.0 L505.1 410.1 L505.6 410.2 L506.1 410.3 L506.6 410.4 L507.1 410.5 L507.6 410.6 L508.0 410.8 L508.5 410.9 L509.0 411.0 L509.4 411.1 L509.8 411.2 L510.2 411.3 L510.6 411.4 L511.0 411.6 L511.4 411.7 L511.7 411.8 L512.1 411.9 L512.4 412.0 L512.7 412.1 L512.9 412.2 L513.2 412.3 L513.6 412.4 L514.0 412.6 L514.4 412.7 L514.9 412.9 L515.3 413.1 L515.7 413.2 L516.1 413.4 L516.5 413.6 L516.9 413.7 L517.3 413.9 L517.7 414.1 L518.1 414.2 L518.5 414.4 L518.9 414.6 L519.3 414.7 L519.7 414.9 L520.0 415.1 L520.4 415.2 L520.8 415.4 L521.1 415.6 L521.5 415.7 L521.8 415.9 L522.2 416.1 L522.5 416.3 L522.8 416.4 L523.1 416.6 L523.5 416.8 L523.8 416.9 L524.1 417.1 L524.4 417.3 L524.7 417.4 L525.0 417.6 L525.2 417.8 L525.5 417.9 L525.8 418.1 L526.0 418.3 L526.3 418.4 L526.5 418.6 L526.8 418.8 L527.0 418.9 L527.2 419.1 L527.4 419.2 L527.6 419.4 L527.8 419.5 L528.0 419.7 L528.2 419.8 L528.4 420.0 L528.5 420.1 L528.7 420.3 L528.8 420.4 L529.0 420.6 L529.2 420.7 L529.4 420.9 L529.6 421.1 L529.8 421.3 L530.0 421.5 L530.2 421.7 L530.4 421.9 L530.6 422.2 L530.8 422.4 L530.9 422.6 L531.1 422.8 L531.3 423.1 L531.5 423.3 L531.7 423.5 L531.9 423.8 L532.1 424.0 L532.3 424.3 L532.5 424.6 L532.6 424.8 L532.8 425.1 L533.0 425.4 L533.2 425.6 L533.4 425.9 L533.5 426.2 L533.7 426.5 L533.9 426.7 L534.0 427.0 L534.2 427.3 L534.4 427.6 L534.5 427.9 L534.7 428.2 L534.8 428.5 L535.0 428.8 L535.1 429.1 L535.3 429.4 L535.4 429.7 L535.6 430.0 L535.7 430.3 L535.8 430.6 L536.0 430.9 L536.1 431.2 L536.2 431.5 L536.3 431.8 L536.5 432.1 L536.6 432.4 L536.7 432.7 L536.8 432.9 L536.9 433.2 L536.9 433.4 L537.0 433.7 L537.1 434.0 L537.2 434.2 L537.3 434.5 L537.3 434.8 L537.4 435.1 L537.5 435.4 L537.6 435.7 L537.6 436.0 L537.7 436.3 L537.8 436.7 L537.8 437.0 L537.9 437.3 L538.0 437.6 L538.0 438.0 L538.1 438.3 L538.1 438.6 L538.2 439.0 L538.2 439.3 L538.3 439.7 L538.3 440.0 L538.4 440.4 L538.4 440.7 L538.4 441.1 L538.5 441.4 L538.5 441.8 L538.5 442.2 L538.5 442.5 L538.6 442.9 L538.6 443.3 L538.6 443.6 L538.6 444.0 L538.6 444.4 L538.6 444.7 L538.6 445.1 L538.6 445.5 L538.6 445.9 L538.6 446.2 L538.6 446.6 L538.6 447.0 L538.6 447.3 L538.6 447.7 L538.6 448.1 L538.6 448.4 L538.5 448.8 L538.5 449.1 L538.5 449.4 L538.5 449.7 L538.4 450.0 L538.4 450.4 L538.4 450.7 L538.3 451.1 L538.3 451.4 L538.2 451.8 L538.2 452.1 L538.1 452.5 L538.1 452.8 L538.0 453.2 L537.9 453.6 L537.9 454.0 L537.8 454.3 L537.7 454.7 L537.6 455.1 L537.6 455.5 L537.5 455.9 L537.4 456.2 L537.3 456.6 L537.2 457.0 L537.1 457.4 L537.0 457.8 L536.9 458.2 L536.8 458.6 L536.7 458.9 L536.6 459.3 L536.5 459.7 L536.4 460.1 L536.2 460.5 L536.2 460.8 L536.1 461.2 L536.0 461.6 L536.0 462.0 L535.9 462.4 L535.8 462.7 L535.7 463.1 L535.7 463.5 L535.6 463.8 L535.5 464.2 L535.4 464.5 L535.3 464.9 L535.3 465.2 L535.2 465.6 L535.1 465.9 L535.0 466.2 L535.0 466.4 L534.9 466.7 L534.9 466.8 L534.9 467.1 L534.8 467.3 L534.7 467.6 L534.6 467.9 L534.5 468.2 L534.4 468.5 L534.2 468.8 L534.1 469.2 L533.9 469.5 L533.8 469.9 L533.6 470.3 L533.4 470.7 L533.2 471.1 L532.9 471.5 L532.7 471.9 L532.5 472.3 L532.3 472.7 L532.0 473.1 L531.8 473.5 L531.5 473.9 L531.3 474.3 L531.0 474.7 L530.8 475.1 L530.5 475.5 L530.2 475.9 L530.0 476.3 L529.7 476.7 L529.5 477.1 L529.2 477.5 L529.0 477.8 L528.7 478.2 L528.4 478.6 L528.2 479.0 L527.9 479.4 L527.7 479.8 L527.4 480.2 L527.1 480.6 L526.8 481.0 L526.6 481.4" fill="none" stroke="#444" stroke-width="1.3"/>
<ellipse cx="508.2" cy="390.8" rx="8.8" ry="19.5" fill="none" stroke="#777" stroke-width="1.3" transform="rotate(12.103705491321977 508.2 390.8)"/>
<ellipse cx="517.6" cy="393.2" rx="8.8" ry="19.5" fill="none" stroke="#777" stroke-width="1.3" transform="rotate(17.467747231890304 517.6 393.2)"/>
<ellipse cx="527.2" cy="396.9" rx="8.8" ry="19.5" fill="none" stroke="#777" stroke-width="1.3" transform="rotate(23.903414125870885 527.2 396.9)"/>
<ellipse cx="535.8" cy="401.4" rx="8.8" ry="19.5" fill="none" stroke="#777" stroke-width="1.3" transform="rotate(31.71450536269772 535.8 401.4)"/>
<ellipse cx="543.8" cy="407.8" rx="8.8" ry="19.5" fill="none" stroke="#777" stroke-width="1.3" transform="rotate(45.97525585472404 543.8 407.8)"/>
<ellipse cx="549.8" cy="415.5" rx="5.8" ry="19.5" fill="none" stroke="#4a4a4a" stroke-width="1.3" transform="rotate(57.65099601985831 549.8 415.5)"/>
<ellipse cx="551.4" cy="418.1" rx="5.8" ry="19.5" fill="none" stroke="#4a4a4a" stroke-width="1.3" transform="rotate(60.95235162823492 551.4 418.1)"/>
<ellipse cx="552.8" cy="420.9" rx="5.8" ry="19.5" fill="none" stroke="#4a4a4a" stroke-width="1.3" transform="rotate(64.16533805778876 552.8 420.9)"/>
<ellipse cx="554.1" cy="423.7" rx="5.8" ry="19.5" fill="none" stroke="#4a4a4a" stroke-width="1.3" transform="rotate(67.3467204165923 554.1 423.7)"/>
<ellipse cx="555.2" cy="426.5" rx="5.8" ry="19.5" fill="none" stroke="#4a4a4a" stroke-width="1.3" transform="rotate(70.67637448490517 555.2 426.5)"/>
<ellipse cx="556.1" cy="429.3" rx="5.8" ry="19.5" fill="none" stroke="#4a4a4a" stroke-width="1.3" transform="rotate(74.41021668956131 556.1 429.3)"/>
<ellipse cx="556.8" cy="432.2" rx="5.8" ry="19.5" fill="none" stroke="#4a4a4a" stroke-width="1.3" transform="rotate(77.79677087015752 556.8 432.2)"/>
<ellipse cx="557.3" cy="434.7" rx="5.8" ry="19.5" fill="none" stroke="#4a4a4a" stroke-width="1.3" transform="rotate(80.39866835758714 557.3 434.7)"/>
<ellipse cx="557.7" cy="437.8" rx="5.8" ry="19.5" fill="none" stroke="#4a4a4a" stroke-width="1.3" transform="rotate(83.30638901855657 557.7 437.8)"/>
<ellipse cx="558.0" cy="440.8" rx="5.8" ry="19.5" fill="none" stroke="#4a4a4a" stroke-width="1.3" transform="rotate(86.02987410501434 558.0 440.8)"/>
<ellipse cx="558.1" cy="443.9" rx="5.8" ry="19.5" fill="none" stroke="#4a4a4a" stroke-width="1.3" transform="rotate(88.61821707652848 558.1 443.9)"/>
<ellipse cx="558.1" cy="447.0" rx="5.8" ry="19.5" fill="none" stroke="#4a4a4a" stroke-width="1.3" transform="rotate(91.11815996388519 558.1 447.0)"/>
<ellipse cx="558.0" cy="450.0" rx="5.8" ry="19.5" fill="none" stroke="#4a4a4a" stroke-width="1.3" transform="rotate(93.61103473044605 558.0 450.0)"/>
<ellipse cx="557.7" cy="453.0" rx="5.8" ry="19.5" fill="none" stroke="#4a4a4a" stroke-width="1.3" transform="rotate(96.69980203473585 557.7 453.0)"/>
<ellipse cx="557.3" cy="456.0" rx="5.8" ry="19.5" fill="none" stroke="#4a4a4a" stroke-width="1.3" transform="rotate(99.4350903023734 557.3 456.0)"/>
<ellipse cx="556.8" cy="458.6" rx="5.8" ry="19.5" fill="none" stroke="#4a4a4a" stroke-width="1.3" transform="rotate(101.50320764122047 556.8 458.6)"/>
<ellipse cx="556.1" cy="461.7" rx="5.8" ry="19.5" fill="none" stroke="#4a4a4a" stroke-width="1.3" transform="rotate(103.81544637224228 556.1 461.7)"/>
<ellipse cx="555.3" cy="464.7" rx="5.8" ry="19.5" fill="none" stroke="#4a4a4a" stroke-width="1.3" transform="rotate(106.02247381914172 555.3 464.7)"/>
<ellipse cx="554.4" cy="467.7" rx="5.8" ry="19.4" fill="none" stroke="#4a4a4a" stroke-width="1.3" transform="rotate(108.20434969007428 554.4 467.7)"/>
<ellipse cx="553.4" cy="470.5" rx="5.7" ry="19.1" fill="none" stroke="#4a4a4a" stroke-width="1.3" transform="rotate(110.44545291817535 553.4 470.5)"/>
<ellipse cx="552.4" cy="473.2" rx="5.6" ry="18.8" fill="none" stroke="#4a4a4a" stroke-width="1.3" transform="rotate(112.84573904071574 552.4 473.2)"/>
<ellipse cx="551.0" cy="476.0" rx="5.5" ry="18.5" fill="none" stroke="#4a4a4a" stroke-width="1.3" transform="rotate(118.2179498410508 551.0 476.0)"/>
<ellipse cx="549.5" cy="478.5" rx="5.4" ry="18.2" fill="none" stroke="#4a4a4a" stroke-width="1.3" transform="rotate(122.3897881103429 549.5 478.5)"/>
<ellipse cx="547.9" cy="481.0" rx="5.4" ry="17.8" fill="none" stroke="#4a4a4a" stroke-width="1.3" transform="rotate(125.38091159104016 547.9 481.0)"/>
<ellipse cx="546.1" cy="483.3" rx="5.3" ry="17.5" fill="none" stroke="#4a4a4a" stroke-width="1.3" transform="rotate(127.49103134799198 546.1 483.3)"/>
<ellipse cx="544.4" cy="485.5" rx="5.2" ry="17.2" fill="none" stroke="#4a4a4a" stroke-width="1.3" transform="rotate(128.86566902471654 544.4 485.5)"/>
<ellipse cx="542.5" cy="487.8" rx="5.1" ry="16.9" fill="none" stroke="#4a4a4a" stroke-width="1.3" transform="rotate(129.5329525609333 542.5 487.8)"/>
<ellipse cx="540.5" cy="490.3" rx="5.0" ry="16.6" fill="none" stroke="#4a4a4a" stroke-width="1.3" transform="rotate(127.74521775271123 540.5 490.3)"/>
<ellipse cx="533" cy="504" rx="22" ry="14" transform="rotate(-38 533 504)" fill="url(#mesh2)" stroke="#3a3a3a" stroke-width="1.3"/>
<ellipse cx="533.0" cy="504.0" rx="16.5" ry="10.5" fill="none" stroke="#444" stroke-width="1.3" transform="rotate(-38 533.0 504.0)"/>
<ellipse cx="533.0" cy="504.0" rx="11.0" ry="7.0" fill="none" stroke="#444" stroke-width="1.3" transform="rotate(-38 533.0 504.0)"/>
<ellipse cx="536" cy="543" rx="15" ry="19" transform="rotate(-20 536 543)" fill="url(#mesh)" stroke="#3a3a3a" stroke-width="1.3"/>
<ellipse cx="536.0" cy="543.0" rx="10.5" ry="13.3" fill="none" stroke="#555" stroke-width="1.3" transform="rotate(-20 536.0 543.0)"/>
<ellipse cx="536.0" cy="543.0" rx="6.0" ry="7.6" fill="none" stroke="#555" stroke-width="1.3" transform="rotate(-20 536.0 543.0)"/>
<ellipse cx="533" cy="522" rx="13" ry="8" transform="rotate(-30 533 522)" fill="url(#mesh2)" stroke="#3a3a3a" stroke-width="1.1"/>
<ellipse cx="506.0" cy="512.0" rx="9.0" ry="17.0" fill="none" stroke="#555" stroke-width="1.45" transform="rotate(-25 506.0 512.0)"/>
<ellipse cx="508.0" cy="512.0" rx="7.0" ry="15.0" fill="none" stroke="#888" stroke-width="1.45" transform="rotate(-25 508.0 512.0)"/>
</svg>
</body></html>
